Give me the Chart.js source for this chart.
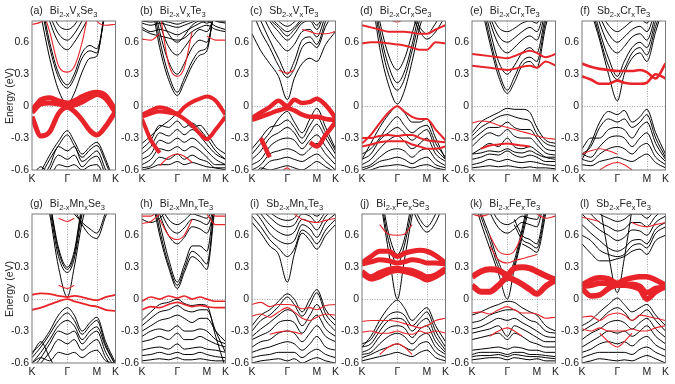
<!DOCTYPE html>
<html>
<head>
<meta charset="utf-8">
<script src="https://cdn.jsdelivr.net/npm/chart.js@4.4.0/dist/chart.umd.min.js"></script>
<style>
  body { margin: 0; background: #fff; }
  #fig { position: relative; width: 675px; height: 384px; overflow: hidden;
         font-family: "Liberation Sans", Arial, sans-serif; color: #222; }
  #fig canvas { position: absolute; }
  .ylab { position: absolute; width: 80px; text-align: center; font-size: 10.5px;
          line-height: 12px; transform: rotate(-90deg); white-space: nowrap; }
</style>
</head>
<body>
<div id="fig"></div>
<script>
// band structures of doped Bi2Se3 / Bi2Te3 / Sb2Te3 along K-Γ-M-K
// energies (eV) sampled on K_GRID; null = band not drawn there

const K_GRID = [0, 9, 18, 27, 36, 43, 51, 59, 66, 75, 85];
const HSYM_POS = [0, 36, 66, 85];
const HSYM_LABELS = ["K", "Γ", "M", "K"];
const Y_TICKS = [-0.6, -0.3, 0, 0.3, 0.6];

// (a) Bi2-xVxSe3
const A_BLACK = [
  [1.20, 0.85, 0.45, 0.15, 0.02, 0.12, 0.32, 0.45, 0.47, 0.95, 1.20],
  [1.30, 0.95, 0.55, 0.27, 0.17, 0.26, 0.45, 0.52, 0.50, 0.92, 1.25],
  [1.30, 1.00, 0.60, 0.31, 0.20, 0.30, 0.50, 0.57, 0.54, 0.88, 1.20],
  [1.40, 1.10, 0.80, 0.60, 0.53, 0.60, 0.72, 0.85, 0.90, 1.10, 1.30],
  [1.40, 1.10, 0.86, 0.68, 0.62, 0.68, 0.80, 0.92, 1.00, 1.10, 1.30],
  [1.40, 1.10, 0.92, 0.76, 0.72, 0.76, 0.88, 1.00, 1.00, 1.10, 1.30],
  [-0.80, -0.62, -0.46, -0.33, -0.23, -0.33, -0.45, -0.38, -0.34, -0.50, -0.75],
  [-0.82, -0.66, -0.50, -0.37, -0.27, -0.37, -0.48, -0.41, -0.37, -0.53, -0.78],
  [-0.85, -0.70, -0.56, -0.38, -0.42, -0.38, -0.52, -0.47, -0.42, -0.60, -0.80],
  [-0.90, -0.75, -0.60, -0.46, -0.50, -0.46, -0.57, -0.50, -0.47, -0.65, -0.85],
  [-0.90, -0.80, -0.68, -0.55, -0.57, -0.55, -0.60, -0.56, -0.55, -0.70, -0.90],
  [-0.66, -0.57, -0.68, -0.85, null, null, null, null, null, null, null]
];
const A_THICK = [
  [-0.04, 0.06, 0.08, 0.05, 0.03, 0.05, 0.09, 0.12, 0.13, 0.10, -0.04],
  [-0.06, 0.02, 0.03, 0.02, 0.00, 0.01, 0.04, 0.08, 0.11, 0.07, -0.06],
  [-0.10, -0.28, -0.24, -0.07, -0.01, -0.05, -0.13, -0.23, -0.27, -0.19, -0.05]
];
const A_RED = [
  [1.20, 0.95, 0.70, 0.38, 0.32, 0.37, 0.60, 0.95, 1.20, 1.20, 1.20],
  [0.77, 0.79, 0.90, 1.00, 1.00, 1.00, 1.00, 0.95, 0.80, 0.76, 0.77]
];

// (b) Bi2-xVxTe3
const B_BLACK = [
  [1.30, 1.00, 0.55, 0.25, 0.10, 0.22, 0.38, 0.48, 0.52, 1.00, 1.30],
  [1.30, 1.05, 0.62, 0.30, 0.13, 0.26, 0.42, 0.52, 0.55, 1.00, 1.30],
  [1.30, 1.10, 0.70, 0.42, 0.30, 0.40, 0.55, 0.62, 0.60, 0.95, 1.30],
  [1.30, 1.10, 0.78, 0.56, 0.48, 0.55, 0.65, 0.72, 0.70, 0.90, 1.20],
  [1.30, 1.00, 0.85, 0.68, 0.60, 0.66, 0.76, 0.80, 0.78, 0.85, 1.00],
  [0.74, 0.70, 0.72, 0.70, 0.67, 0.70, 0.74, 0.78, 0.80, 0.75, 0.72],
  [0.78, 0.76, 0.78, 0.76, 0.74, 0.76, 0.79, 0.82, 0.85, 0.80, 0.78],
  [0.72, 0.68, 0.66, 0.64, 0.62, 0.64, 0.70, 0.74, 0.76, 0.72, 0.70],
  [0.80, 0.79, 0.80, 0.79, 0.77, 0.79, 0.81, 0.83, 0.84, 0.80, 0.79],
  [-0.35, -0.28, -0.20, -0.14, -0.08, -0.13, -0.20, -0.18, -0.25, -0.38, -0.45],
  [-0.40, -0.32, -0.18, -0.20, -0.14, -0.20, -0.16, -0.22, -0.30, -0.42, -0.50],
  [-0.45, -0.38, -0.25, -0.28, -0.22, -0.27, -0.22, -0.28, -0.36, -0.45, -0.50],
  [-0.50, -0.45, -0.32, -0.35, -0.30, -0.34, -0.30, -0.35, -0.42, -0.50, -0.55],
  [-0.55, -0.50, -0.40, -0.42, -0.38, -0.42, -0.38, -0.42, -0.48, -0.55, -0.55],
  [-0.58, -0.56, -0.48, -0.50, -0.45, -0.50, -0.46, -0.50, -0.52, -0.58, -0.58],
  [-0.60, -0.58, -0.55, -0.55, -0.52, -0.55, -0.53, -0.55, -0.57, -0.58, -0.60]
];
const B_THICK = [
  [-0.08, -0.04, -0.01, -0.03, -0.07, -0.01, 0.04, 0.07, 0.09, 0.05, -0.08],
  [-0.10, -0.07, -0.05, -0.06, -0.08, -0.12, -0.18, -0.26, -0.31, -0.22, -0.10],
  [-0.12, -0.32, -0.44, null, null, null, null, null, null, null, null]
];
const B_RED = [
  [0.63, 0.62, 0.68, null, null, null, null, null, 0.66, 0.62, 0.62],
  [null, null, 0.90, 0.40, 0.28, 0.36, 0.70, null, null, null, null],
  [null, null, -0.56, -0.48, -0.45, -0.47, -0.53, null, null, null, null]
];

// (c) Sb2-xVxTe3
const C_BLACK = [
  [0.68, 0.52, 0.40, 0.28, 0.06, 0.26, 0.40, 0.45, 0.42, 0.58, 0.70],
  [0.90, 0.70, 0.55, 0.38, 0.27, 0.35, 0.55, 0.60, 0.55, 0.75, 0.90],
  [1.00, 0.80, 0.62, 0.45, 0.30, 0.42, 0.62, 0.65, 0.58, 0.80, 1.00],
  [1.10, 0.90, 0.72, 0.60, 0.52, 0.58, 0.70, 0.72, 0.65, 0.85, 1.00],
  [1.10, 0.95, 0.80, 0.70, 0.62, 0.68, 0.78, 0.80, 0.72, 0.90, 1.00],
  [1.10, 1.00, 0.85, 0.76, 0.70, 0.74, 0.82, 0.85, 0.80, 0.95, 1.10],
  [1.10, 0.95, 0.82, 0.74, 0.66, 0.72, 0.80, 0.82, 0.76, 0.92, 1.05],
  [1.10, 1.00, 0.90, 0.80, 0.75, 0.79, 0.86, 0.88, 0.84, 0.98, 1.10],
  [-0.45, -0.35, -0.25, -0.12, -0.05, -0.15, -0.25, -0.12, -0.02, -0.20, -0.40],
  [-0.40, -0.30, -0.20, -0.18, -0.13, -0.20, -0.30, -0.18, -0.10, -0.25, -0.42],
  [-0.50, -0.42, -0.30, -0.25, -0.20, -0.25, -0.35, -0.25, -0.17, -0.30, -0.45],
  [-0.55, -0.50, -0.38, -0.32, -0.30, -0.32, -0.40, -0.32, -0.27, -0.38, -0.50],
  [-0.60, -0.55, -0.45, -0.42, -0.40, -0.42, -0.46, -0.40, -0.35, -0.45, -0.55],
  [-0.65, -0.60, -0.52, -0.50, -0.48, -0.50, -0.52, -0.48, -0.45, -0.52, -0.60],
  [-0.70, -0.58, -0.60, -0.58, -0.56, -0.58, -0.60, -0.56, -0.52, -0.57, -0.62]
];
const C_THICK = [
  [-0.11, -0.06, -0.01, 0.05, 0.00, 0.06, 0.03, 0.04, 0.07, 0.01, -0.11],
  [-0.13, -0.10, -0.07, -0.04, -0.02, -0.04, -0.08, -0.10, -0.10, -0.12, -0.13],
  [null, null, null, null, null, null, null, -0.34, -0.38, -0.27, -0.15],
  [null, -0.30, -0.48, null, null, null, null, null, null, null, null]
];
const C_RED = [
  [null, null, -0.85, -0.66, -0.58, -0.66, -0.85, null, null, null, null],
  [null, null, null, 0.34, 0.31, 0.34, null, null, null, null, null],
  [null, null, null, null, null, null, 0.72, 0.70, 0.68, 0.68, 0.70]
];

// (d) Bi2-xCrxSe3
const D_BLACK = [
  [1.50, 1.10, 0.55, 0.20, 0.02, 0.14, 0.42, 0.75, 0.95, 1.20, 1.40],
  [1.50, 1.15, 0.65, 0.30, 0.15, 0.25, 0.52, 0.82, 1.00, 1.20, 1.40],
  [1.50, 1.20, 0.72, 0.38, 0.22, 0.32, 0.58, 0.90, 1.05, 1.20, 1.40],
  [1.50, 1.25, 0.80, 0.48, 0.34, 0.44, 0.68, 0.95, 1.10, 1.20, 1.40],
  [null, null, null, null, null, null, 0.90, 0.74, 0.68, 0.78, 0.95],
  [null, null, null, null, null, null, 0.85, 0.70, 0.63, 0.70, 0.85],
  [-0.50, -0.35, -0.20, -0.08, 0.00, -0.06, -0.15, -0.15, -0.12, -0.30, -0.50],
  [-0.45, -0.40, -0.30, -0.18, -0.10, -0.18, -0.25, -0.20, -0.18, -0.35, -0.48],
  [-0.50, -0.45, -0.32, -0.25, -0.20, -0.25, -0.32, -0.26, -0.22, -0.40, -0.50],
  [-0.55, -0.50, -0.40, -0.32, -0.28, -0.33, -0.40, -0.35, -0.30, -0.45, -0.52],
  [-0.58, -0.55, -0.48, -0.42, -0.40, -0.42, -0.48, -0.42, -0.40, -0.50, -0.56],
  [-0.60, -0.57, -0.52, -0.50, -0.48, -0.50, -0.54, -0.50, -0.48, -0.55, -0.58],
  [-0.62, -0.60, -0.57, -0.56, -0.55, -0.56, -0.58, -0.56, -0.55, -0.58, -0.60]
];
const D_THICK = [
  [0.76, 0.74, 0.72, 0.70, 0.70, 0.70, 0.69, 0.68, 0.68, 0.72, 0.76],
  [0.59, 0.60, 0.60, 0.59, 0.58, 0.57, 0.55, 0.53, 0.53, 0.60, 0.59],
  [-0.35, -0.27, -0.16, -0.06, 0.00, -0.05, -0.10, -0.12, -0.12, -0.22, -0.32],
  [-0.30, -0.30, -0.28, -0.27, -0.28, -0.27, -0.27, -0.30, -0.32, -0.33, -0.34],
  [-0.38, -0.36, -0.34, -0.33, -0.33, -0.33, -0.36, -0.38, -0.40, -0.40, -0.38]
];
const D_RED = [
  [null, null, null, 0.82, 0.79, 0.82, null, null, null, null, null]
];

// (e) Bi2-xCrxTe3
const E_BLACK = [
  [1.20, 0.95, 0.60, 0.28, 0.12, 0.22, 0.38, 0.42, 0.36, 0.75, 1.10],
  [1.20, 1.00, 0.65, 0.33, 0.15, 0.27, 0.42, 0.46, 0.42, 0.80, 1.10],
  [1.30, 1.05, 0.72, 0.42, 0.30, 0.38, 0.50, 0.55, 0.50, 0.85, 1.10],
  [1.30, 1.10, 0.80, 0.58, 0.50, 0.55, 0.62, 0.66, 0.62, 0.90, 1.20],
  [1.30, 1.10, 0.85, 0.66, 0.60, 0.64, 0.70, 0.74, 0.70, 0.95, 1.20],
  [1.30, 1.15, 0.90, 0.74, 0.70, 0.73, 0.78, 0.80, 0.78, 1.00, 1.20],
  [-0.25, -0.15, -0.10, -0.06, -0.02, -0.03, -0.03, -0.06, -0.20, -0.32, -0.35],
  [-0.28, -0.20, -0.15, -0.10, -0.08, -0.10, -0.12, -0.14, -0.26, -0.35, -0.38],
  [-0.32, -0.25, -0.20, -0.20, -0.15, -0.20, -0.22, -0.22, -0.30, -0.40, -0.42],
  [-0.38, -0.30, -0.25, -0.28, -0.22, -0.28, -0.30, -0.30, -0.36, -0.44, -0.46],
  [-0.45, -0.40, -0.35, -0.38, -0.30, -0.38, -0.40, -0.38, -0.42, -0.48, -0.50],
  [-0.45, -0.44, -0.42, -0.43, -0.40, -0.43, -0.44, -0.42, -0.45, -0.48, -0.48],
  [-0.50, -0.48, -0.45, -0.46, -0.42, -0.46, -0.48, -0.46, -0.48, -0.52, -0.52],
  [-0.55, -0.53, -0.50, -0.52, -0.50, -0.52, -0.53, -0.52, -0.53, -0.55, -0.56],
  [-0.58, -0.57, -0.56, -0.57, -0.56, -0.57, -0.58, -0.57, -0.58, -0.58, -0.59]
];
const E_THICK = [
  [0.49, 0.48, 0.47, 0.46, 0.45, 0.47, 0.50, 0.52, 0.50, 0.46, 0.49],
  [0.38, 0.37, 0.36, 0.35, 0.34, 0.35, 0.37, 0.38, 0.36, 0.42, 0.38],
  [null, -0.40, -0.37, -0.36, -0.35, -0.36, -0.37, -0.38, null, null, null]
];
const E_RED = [
  [-0.16, -0.14, -0.15, -0.18, -0.20, -0.22, -0.24, -0.26, -0.28, -0.30, -0.31]
];

// (f) Sb2-xCrxTe3
const F_BLACK = [
  [1.20, 0.90, 0.62, 0.30, 0.05, 0.30, 0.45, 0.50, 0.42, 0.70, 1.00],
  [1.20, 0.95, 0.65, 0.38, 0.25, 0.35, 0.50, 0.55, 0.48, 0.75, 1.00],
  [1.20, 1.00, 0.70, 0.45, 0.28, 0.42, 0.55, 0.60, 0.55, 0.80, 1.05],
  [1.30, 1.05, 0.78, 0.58, 0.50, 0.56, 0.65, 0.68, 0.62, 0.85, 1.10],
  [1.30, 1.10, 0.85, 0.68, 0.60, 0.65, 0.72, 0.75, 0.70, 0.90, 1.10],
  [1.30, 1.10, 0.90, 0.76, 0.70, 0.74, 0.80, 0.82, 0.78, 0.95, 1.10],
  [-0.50, -0.35, -0.15, -0.05, -0.08, -0.04, -0.15, -0.10, -0.03, -0.25, -0.45],
  [-0.45, -0.38, -0.20, -0.12, -0.15, -0.12, -0.20, -0.15, -0.08, -0.30, -0.48],
  [-0.40, -0.30, -0.30, -0.22, -0.20, -0.22, -0.30, -0.20, -0.15, -0.35, -0.50],
  [-0.45, -0.48, -0.38, -0.30, -0.28, -0.30, -0.38, -0.30, -0.25, -0.42, -0.52],
  [-0.50, -0.52, -0.45, -0.40, -0.38, -0.40, -0.45, -0.38, -0.35, -0.48, -0.55],
  [-0.55, -0.56, -0.52, -0.50, -0.48, -0.50, -0.52, -0.48, -0.45, -0.53, -0.58]
];
const F_THICK = [
  [0.40, 0.37, 0.35, 0.34, 0.33, 0.33, 0.33, 0.34, 0.32, 0.26, 0.40],
  [0.28, 0.25, 0.21, 0.21, 0.24, 0.22, 0.21, 0.21, 0.22, 0.30, 0.26]
];
const F_RED = [
  [null, null, -0.60, -0.55, -0.53, -0.55, -0.60, null, null, null, null],
  [-0.45, -0.42, -0.40, -0.42, -0.45, null, null, null, null, null, null]
];

// (g) Bi2-xMnxSe3
const G_BLACK = [
  [1.50, 1.20, 0.80, 0.30, 0.02, 0.30, 0.72, 1.00, 1.20, 1.30, 1.30],
  [1.50, 1.25, 0.85, 0.40, 0.25, 0.38, 0.80, 1.10, 1.20, 1.30, 1.30],
  [1.50, 1.30, 0.90, 0.45, 0.28, 0.42, 0.85, 1.10, 1.20, 1.30, 1.30],
  [1.50, 1.30, 0.92, 0.48, 0.30, 0.45, 0.88, 1.10, 1.20, 1.30, 1.30],
  [null, null, null, null, null, 0.80, 0.72, 0.66, 0.62, 0.82, 1.10],
  [null, null, null, null, null, 0.85, 0.70, 0.60, 0.57, 0.78, 1.00],
  [-0.50, -0.42, -0.30, -0.15, -0.08, -0.15, -0.30, -0.22, -0.17, -0.40, -0.60],
  [-0.55, -0.45, -0.33, -0.20, -0.13, -0.20, -0.33, -0.25, -0.20, -0.43, -0.62],
  [-0.60, -0.50, -0.38, -0.25, -0.20, -0.25, -0.38, -0.30, -0.26, -0.45, -0.62],
  [-0.65, -0.55, -0.42, -0.30, -0.33, -0.30, -0.42, -0.34, -0.30, -0.50, -0.65],
  [-0.70, -0.60, -0.50, -0.38, -0.42, -0.38, -0.48, -0.42, -0.38, -0.55, -0.68],
  [-0.52, -0.40, -0.55, -0.70, null, null, null, null, null, null, null],
  [-0.60, -0.55, -0.58, -0.50, -0.52, -0.50, -0.55, -0.50, -0.48, -0.58, -0.60]
];
const G_THICK = [
  [0.04, 0.055, 0.05, 0.03, 0.02, 0.03, 0.02, 0.00, -0.01, 0.02, 0.04],
  [-0.10, -0.08, -0.05, -0.02, 0.00, -0.02, -0.04, -0.06, -0.07, -0.10, -0.11]
];
const G_RED = [
  [null, null, null, 0.13, 0.10, 0.13, null, null, null, null, null],
  [null, null, null, 0.76, 0.73, 0.76, null, null, null, null, null]
];

// (h) Bi2-xMnxTe3
const H_BLACK = [
  [1.30, 1.00, 0.60, 0.30, 0.10, 0.25, 0.40, 0.35, 0.28, 0.90, 1.20],
  [1.30, 1.05, 0.65, 0.33, 0.13, 0.28, 0.45, 0.40, 0.33, 0.95, 1.20],
  [1.30, 1.10, 0.72, 0.38, 0.16, 0.32, 0.50, 0.50, 0.45, 1.00, 1.20],
  [1.30, 1.10, 0.80, 0.60, 0.52, 0.58, 0.68, 0.66, 0.62, 0.90, 1.20],
  [1.30, 1.10, 0.85, 0.68, 0.62, 0.67, 0.75, 0.73, 0.70, 0.92, 1.20],
  [1.30, 1.15, 0.90, 0.75, 0.70, 0.74, 0.80, 0.78, 0.76, 0.95, 1.20],
  [0.75, 0.72, 0.76, 0.85, null, null, null, null, null, null, null],
  [-0.20, -0.12, -0.05, -0.03, 0.00, -0.04, -0.06, -0.05, -0.06, -0.35, -0.65],
  [-0.25, -0.18, -0.12, -0.10, -0.06, -0.10, -0.12, -0.10, -0.10, -0.30, -0.50],
  [-0.30, -0.25, -0.20, -0.18, -0.15, -0.18, -0.22, -0.18, -0.18, -0.30, -0.40],
  [-0.35, -0.30, -0.28, -0.30, -0.25, -0.30, -0.30, -0.28, -0.30, -0.38, -0.42],
  [-0.40, -0.38, -0.35, -0.38, -0.32, -0.38, -0.38, -0.35, -0.38, -0.42, -0.45],
  [-0.48, -0.46, -0.45, -0.47, -0.42, -0.47, -0.46, -0.45, -0.47, -0.48, -0.50],
  [-0.53, -0.52, -0.50, -0.52, -0.50, -0.52, -0.52, -0.50, -0.52, -0.54, -0.55],
  [-0.58, -0.57, -0.56, -0.57, -0.55, -0.57, -0.57, -0.56, -0.57, -0.58, -0.58]
];
const H_THICK = [
  [-0.02, 0.02, 0.00, 0.03, 0.01, 0.03, 0.00, 0.02, 0.00, -0.02, -0.02],
  [-0.10, -0.07, -0.08, -0.05, -0.03, -0.05, -0.07, -0.06, -0.07, -0.08, -0.08]
];
const H_RED = [
  [0.78, 0.78, 0.85, null, null, null, null, null, 0.85, 0.78, 0.78],
  [0.71, 0.73, 0.80, null, null, null, null, null, 0.80, 0.70, 0.70],
  [null, null, 0.75, 0.60, 0.56, 0.60, 0.75, null, null, null, null]
];

// (i) Sb2-xMnxTe3
const I_BLACK = [
  [0.72, 0.62, 0.50, 0.42, 0.16, 0.42, 0.62, 0.55, 0.47, 0.60, 0.70],
  [0.78, 0.68, 0.56, 0.48, 0.40, 0.47, 0.65, 0.60, 0.52, 0.65, 0.75],
  [0.85, 0.75, 0.62, 0.55, 0.52, 0.55, 0.70, 0.66, 0.58, 0.72, 0.80],
  [0.90, 0.80, 0.70, 0.63, 0.60, 0.63, 0.75, 0.72, 0.65, 0.78, 0.85],
  [0.95, 0.85, 0.77, 0.70, 0.68, 0.70, 0.80, 0.78, 0.72, 0.82, 0.90],
  [1.00, 0.90, 0.82, 0.76, 0.74, 0.76, 0.85, 0.82, 0.78, 0.86, 0.95],
  [-0.25, -0.15, -0.10, -0.02, 0.05, 0.00, -0.12, 0.00, 0.09, -0.10, -0.20],
  [-0.30, -0.20, -0.15, -0.07, 0.02, -0.05, -0.16, -0.05, 0.06, -0.14, -0.25],
  [-0.35, -0.28, -0.22, -0.15, -0.10, -0.13, -0.25, -0.15, -0.05, -0.20, -0.30],
  [-0.38, -0.34, -0.30, -0.22, -0.20, -0.22, -0.32, -0.22, -0.15, -0.28, -0.35],
  [-0.45, -0.40, -0.38, -0.32, -0.30, -0.32, -0.40, -0.32, -0.25, -0.35, -0.40],
  [-0.50, -0.47, -0.45, -0.42, -0.40, -0.42, -0.48, -0.42, -0.35, -0.45, -0.48],
  [-0.55, -0.53, -0.52, -0.50, -0.50, -0.50, -0.55, -0.50, -0.47, -0.52, -0.55],
  [-0.60, -0.58, -0.57, -0.56, -0.58, -0.56, -0.60, -0.57, -0.55, -0.58, -0.60]
];
const I_THICK = [];
const I_RED = [
  [-0.05, -0.03, -0.07, -0.05, -0.05, -0.06, -0.09, -0.08, -0.10, -0.06, -0.05],
  [-0.16, -0.14, -0.17, -0.12, -0.08, -0.12, -0.18, -0.20, -0.17, -0.14, -0.15],
  [null, null, -0.33, -0.31, -0.30, -0.31, -0.33, null, null, null, null],
  [null, null, null, null, null, 0.80, 0.75, 0.73, 0.72, 0.74, 0.76]
];

// (j) Bi2-xFexSe3
const J_BLACK = [
  [1.50, 1.20, 0.95, 0.45, 0.00, 0.36, 0.78, 1.10, 1.30, 1.30, 1.30],
  [1.50, 1.30, 1.00, 0.55, 0.33, 0.50, 0.85, 1.15, 1.30, 1.30, 1.30],
  [1.50, 1.30, 1.05, 0.62, 0.42, 0.56, 0.92, 1.20, 1.30, 1.30, 1.30],
  [null, null, null, null, null, null, 0.90, 0.75, 0.68, 0.80, 1.00],
  [null, null, null, null, null, null, 0.85, 0.70, 0.63, 0.72, 0.95],
  [-0.45, -0.35, -0.20, -0.08, -0.01, -0.08, -0.20, -0.13, -0.08, -0.25, -0.40],
  [-0.42, -0.38, -0.25, -0.15, -0.12, -0.15, -0.25, -0.18, -0.12, -0.30, -0.45],
  [-0.45, -0.42, -0.30, -0.20, -0.18, -0.20, -0.30, -0.22, -0.18, -0.35, -0.48],
  [-0.50, -0.46, -0.35, -0.27, -0.25, -0.27, -0.36, -0.28, -0.25, -0.40, -0.50],
  [-0.52, -0.50, -0.42, -0.35, -0.32, -0.35, -0.42, -0.35, -0.32, -0.45, -0.52],
  [-0.55, -0.52, -0.48, -0.45, -0.42, -0.45, -0.48, -0.42, -0.40, -0.50, -0.55],
  [-0.58, -0.56, -0.54, -0.52, -0.50, -0.52, -0.54, -0.50, -0.48, -0.55, -0.58]
];
const J_THICK = [
  [0.34, 0.40, 0.45, 0.45, 0.40, 0.43, 0.45, 0.46, 0.45, 0.41, 0.34],
  [0.33, 0.35, 0.37, 0.36, 0.34, 0.35, 0.37, 0.36, 0.34, 0.34, 0.33],
  [0.26, 0.21, 0.25, 0.28, 0.29, 0.28, 0.27, 0.24, 0.21, 0.23, 0.29],
  [0.24, 0.19, 0.21, 0.25, 0.27, 0.26, 0.24, 0.21, 0.18, 0.21, 0.27]
];
const J_RED = [
  [null, null, 0.70, 0.61, 0.60, 0.61, 0.70, null, null, null, null],
  [-0.21, -0.20, -0.20, -0.20, -0.21, -0.23, -0.25, -0.27, -0.25, -0.20, -0.18],
  [-0.31, -0.30, -0.32, -0.32, -0.30, -0.32, -0.33, -0.30, -0.32, -0.30, -0.32],
  [null, null, -0.52, -0.45, -0.42, -0.45, -0.52, null, null, null, null]
];

// (k) Bi2-xFexTe3
const K_BLACK = [
  [1.00, 0.72, 0.48, 0.24, 0.00, 0.28, 0.58, 0.90, 1.20, 1.30, 1.30],
  [1.05, 0.78, 0.55, 0.30, 0.17, 0.32, 0.62, 0.95, 1.20, 1.30, 1.30],
  [1.10, 0.82, 0.60, 0.35, 0.20, 0.36, 0.66, 1.00, 1.20, 1.30, 1.30],
  [null, null, null, null, null, 0.70, 0.56, 0.52, 0.48, 0.85, 1.30],
  [null, null, null, null, null, 0.75, 0.60, 0.56, 0.52, 0.90, 1.30],
  [null, null, null, null, null, null, 0.52, 0.48, 0.44, 0.80, 1.30],
  [1.30, 1.05, 0.82, 0.67, 0.62, 0.66, 0.72, 0.70, 0.68, 1.00, 1.30],
  [1.30, 1.10, 0.88, 0.74, 0.70, 0.73, 0.78, 0.76, 0.75, 1.00, 1.30],
  [-0.15, -0.12, -0.08, -0.05, -0.02, -0.03, -0.08, -0.12, -0.15, -0.25, -0.30],
  [-0.22, -0.20, -0.15, -0.12, -0.10, -0.10, -0.15, -0.20, -0.22, -0.30, -0.32],
  [-0.28, -0.26, -0.22, -0.18, -0.20, -0.18, -0.22, -0.26, -0.30, -0.35, -0.36],
  [-0.32, -0.30, -0.28, -0.25, -0.35, -0.25, -0.28, -0.32, -0.36, -0.40, -0.40],
  [-0.38, -0.36, -0.34, -0.32, -0.38, -0.32, -0.35, -0.40, -0.42, -0.45, -0.45],
  [-0.48, -0.47, -0.46, -0.45, -0.47, -0.45, -0.46, -0.48, -0.48, -0.50, -0.50],
  [-0.52, -0.50, -0.50, -0.50, -0.52, -0.50, -0.50, -0.52, -0.52, -0.53, -0.54],
  [-0.54, -0.53, -0.53, -0.52, -0.54, -0.52, -0.53, -0.54, -0.54, -0.55, -0.56],
  [-0.57, -0.56, -0.55, -0.55, -0.57, -0.55, -0.56, -0.57, -0.56, -0.58, -0.58]
];
const K_THICK = [
  [0.21, 0.26, 0.28, 0.27, 0.23, 0.29, 0.30, 0.29, 0.26, 0.22, 0.18],
  [0.13, 0.07, 0.07, 0.13, 0.20, 0.18, 0.14, 0.09, 0.05, 0.12, 0.18]
];
const K_RED = [
  [null, null, 0.60, 0.45, 0.42, 0.45, 0.60, null, null, null, null],
  [null, null, 0.50, 0.37, 0.34, 0.36, 0.38, 0.40, 0.42, null, null],
  [0.80, 0.78, 0.80, null, null, null, null, null, 0.80, 0.76, 0.78],
  [-0.13, -0.12, -0.14, -0.10, -0.07, -0.10, -0.13, -0.13, -0.14, -0.18, -0.17],
  [null, null, -0.35, -0.30, -0.27, -0.30, -0.35, null, null, null, null]
];

// (l) Sb2-xFexTe3
const L_BLACK = [
  [null, null, 0.90, 0.42, 0.06, 0.38, 0.85, null, null, null, null],
  [0.52, 0.43, 0.36, 0.36, 0.38, 0.40, 0.45, 0.47, 0.42, 0.55, 0.60],
  [0.60, 0.55, 0.46, 0.42, 0.40, 0.42, 0.50, 0.52, 0.48, 0.62, 0.68],
  [0.70, 0.62, 0.55, 0.48, 0.45, 0.48, 0.55, 0.56, 0.52, 0.66, 0.72],
  [0.80, 0.72, 0.65, 0.60, 0.55, 0.58, 0.65, 0.64, 0.60, 0.72, 0.78],
  [0.90, 0.80, 0.72, 0.68, 0.64, 0.66, 0.72, 0.72, 0.68, 0.78, 0.85],
  [1.00, 0.88, 0.80, 0.76, 0.73, 0.75, 0.80, 0.80, 0.76, 0.85, 0.90],
  [-0.25, -0.20, -0.12, -0.05, 0.01, -0.05, -0.12, -0.08, -0.05, -0.15, -0.25],
  [-0.30, -0.25, -0.20, -0.12, -0.08, -0.12, -0.20, -0.15, -0.10, -0.20, -0.30],
  [-0.38, -0.32, -0.28, -0.22, -0.20, -0.22, -0.28, -0.22, -0.18, -0.28, -0.36],
  [-0.45, -0.40, -0.35, -0.30, -0.32, -0.30, -0.35, -0.30, -0.25, -0.35, -0.42],
  [-0.50, -0.47, -0.42, -0.40, -0.42, -0.40, -0.44, -0.38, -0.35, -0.43, -0.48],
  [-0.55, -0.52, -0.50, -0.50, -0.50, -0.50, -0.52, -0.47, -0.45, -0.50, -0.54],
  [-0.60, -0.58, -0.56, -0.57, -0.58, -0.57, -0.58, -0.55, -0.53, -0.56, -0.60]
];
const L_THICK = [
  [0.13, 0.18, 0.20, 0.19, 0.15, 0.18, 0.20, 0.21, 0.21, 0.18, 0.13],
  [0.10, 0.03, 0.04, 0.10, 0.13, 0.13, 0.12, 0.09, 0.00, 0.07, 0.12],
  [0.12, 0.13, 0.15, 0.15, 0.14, 0.14, 0.14, 0.12, 0.06, 0.10, 0.11]
];
const L_RED = [
  [0.77, 0.75, 0.73, null, null, null, 0.72, 0.69, 0.68, 0.70, 0.72],
  [-0.17, -0.16, -0.20, -0.15, -0.13, -0.15, -0.20, -0.15, -0.16, -0.18, -0.20],
  [-0.28, -0.30, -0.27, -0.30, -0.30, -0.30, -0.28, -0.30, -0.30, -0.27, -0.25],
  [null, null, -0.32, -0.40, -0.45, -0.40, -0.32, null, null, null, null]
];

// titles: _{..} marks a subscript
const PANELS = [
  { tag: "(a)", name: "Bi_{2-x}V_{x}Se_{3}", black: A_BLACK, thick: A_THICK, thin: A_RED, thickW: 5 },
  { tag: "(b)", name: "Bi_{2-x}V_{x}Te_{3}", black: B_BLACK, thick: B_THICK, thin: B_RED, thickW: 4 },
  { tag: "(c)", name: "Sb_{2-x}V_{x}Te_{3}", black: C_BLACK, thick: C_THICK, thin: C_RED, thickW: 4.5 },
  { tag: "(d)", name: "Bi_{2-x}Cr_{x}Se_{3}", black: D_BLACK, thick: D_THICK, thin: D_RED, thickW: 2 },
  { tag: "(e)", name: "Bi_{2-x}Cr_{x}Te_{3}", black: E_BLACK, thick: E_THICK, thin: E_RED, thickW: 2 },
  { tag: "(f)", name: "Sb_{2-x}Cr_{x}Te_{3}", black: F_BLACK, thick: F_THICK, thin: F_RED, thickW: 2.6 },
  { tag: "(g)", name: "Bi_{2-x}Mn_{x}Se_{3}", black: G_BLACK, thick: G_THICK, thin: G_RED, thickW: 1.8 },
  { tag: "(h)", name: "Bi_{2-x}Mn_{x}Te_{3}", black: H_BLACK, thick: H_THICK, thin: H_RED, thickW: 1.6 },
  { tag: "(i)", name: "Sb_{2-x}Mn_{x}Te_{3}", black: I_BLACK, thick: I_THICK, thin: I_RED, thickW: 1.5 },
  { tag: "(j)", name: "Bi_{2-x}Fe_{x}Se_{3}", black: J_BLACK, thick: J_THICK, thin: J_RED, thickW: 5 },
  { tag: "(k)", name: "Bi_{2-x}Fe_{x}Te_{3}", black: K_BLACK, thick: K_THICK, thin: K_RED, thickW: 6 },
  { tag: "(l)", name: "Sb_{2-x}Fe_{x}Te_{3}", black: L_BLACK, thick: L_THICK, thin: L_RED, thickW: 5.5 }
];

const FONT = "'Liberation Sans', Arial, sans-serif";
const RED = "#e8242a";
const PLOT_W = 86, PLOT_H = 149, AXIS_W = 30, AXIS_H = 18, PAD = 20;
const COL_X0 = 32, COL_STEP = 110, ROW_TOP = [21, 214];

// dotted Γ / M / E=0 guides under the bands, grey frame and title on top
const frameLines = {
  id: "frameLines",
  beforeDatasetsDraw(chart) {
    const { ctx, chartArea: a, scales: { x, y } } = chart;
    ctx.save();
    ctx.strokeStyle = "#8c8c8c";
    ctx.lineWidth = 0.8;
    ctx.setLineDash([1, 1.5]);
    ctx.beginPath();
    [HSYM_POS[1], HSYM_POS[2]].forEach((k) => {
      const px = Math.round(x.getPixelForValue(k)) + 0.5;
      ctx.moveTo(px, a.top);
      ctx.lineTo(px, a.bottom);
    });
    const py = Math.round(y.getPixelForValue(0)) + 0.5;
    ctx.moveTo(a.left, py);
    ctx.lineTo(a.right, py);
    ctx.stroke();
    ctx.restore();
  },
  afterDatasetsDraw(chart, args, opts) {
    const { ctx, chartArea: a } = chart;
    ctx.save();
    ctx.strokeStyle = "#7a7a7a";
    ctx.lineWidth = 1;
    ctx.strokeRect(a.left, a.top, a.right - a.left, a.bottom - a.top);

    // panel title with subscripts
    ctx.fillStyle = "#222";
    ctx.textBaseline = "alphabetic";
    let tx = a.left - 2;
    const ty = a.top - 7;
    ctx.font = "10.5px " + FONT;
    ctx.fillText(opts.tag, tx, ty);
    tx += ctx.measureText(opts.tag).width + 7;
    opts.name.split(/_\{([^}]*)\}/).forEach((part, i) => {
      if (!part) return;
      const sub = i % 2 === 1;
      ctx.font = (sub ? "7.5px " : "10.5px ") + FONT;
      ctx.fillText(part, tx, ty + (sub ? 2.5 : 0));
      tx += ctx.measureText(part).width;
    });
    ctx.restore();
  }
};

function bandSets(list, color, width, order) {
  return list.map((b) => ({
    data: K_GRID.map((k, i) => ({ x: k, y: b[i] })),
    borderColor: color,
    borderWidth: width,
    pointRadius: 0,
    cubicInterpolationMode: "monotone",
    spanGaps: false,
    clip: 0,
    order
  }));
}

function drawPanel(p, idx) {
  const fig = document.getElementById("fig");
  const col = idx % 6, row = Math.floor(idx / 6);
  const plotLeft = COL_X0 + COL_STEP * col;
  const plotTop = ROW_TOP[row];

  const canvas = document.createElement("canvas");
  canvas.width = AXIS_W + PLOT_W + 4;
  canvas.height = PAD + PLOT_H + AXIS_H;
  canvas.style.left = (plotLeft - AXIS_W) + "px";
  canvas.style.top = (plotTop - PAD) + "px";
  fig.appendChild(canvas);

  if (col === 0) {
    const yl = document.createElement("div");
    yl.className = "ylab";
    yl.textContent = "Energy (eV)";
    yl.style.left = (9 - 40) + "px";
    yl.style.top = (plotTop + PLOT_H / 2 - 6) + "px";
    fig.appendChild(yl);
  }

  const tickFont = { family: FONT, size: 10.5 };
  new Chart(canvas, {
    type: "line",
    data: {
      datasets: [
        ...bandSets(p.thick, RED, p.thickW, 0),
        ...bandSets(p.thin, RED, 1.1, 1),
        ...bandSets(p.black, "#000", 1, 2)
      ]
    },
    options: {
      responsive: false,
      animation: false,
      events: [],
      layout: { padding: { top: PAD, right: 4, left: 0, bottom: 0 } },
      plugins: {
        legend: { display: false },
        tooltip: { enabled: false },
        frameLines: { tag: p.tag, name: p.name }
      },
      scales: {
        x: {
          type: "linear",
          min: 0,
          max: HSYM_POS[3],
          grid: { display: false, drawTicks: false },
          border: { display: false },
          afterBuildTicks: (s) => { s.ticks = HSYM_POS.map((v) => ({ value: v })); },
          afterFit: (s) => { s.height = AXIS_H; },
          ticks: {
            autoSkip: false, maxRotation: 0, padding: 3, color: "#222", font: tickFont,
            callback: (v, i) => HSYM_LABELS[i]
          }
        },
        y: {
          min: -0.6,
          max: 0.8,
          grid: { display: false, drawTicks: false },
          border: { display: false },
          afterBuildTicks: (s) => { s.ticks = Y_TICKS.map((v) => ({ value: v })); },
          afterFit: (s) => { s.width = AXIS_W; },
          ticks: {
            padding: 3, color: "#222", font: tickFont,
            callback: (v) => (v === 0 ? "0" : v.toFixed(1))
          }
        }
      }
    },
    plugins: [frameLines]
  });
}

PANELS.forEach(drawPanel);
</script>
</body>
</html>
